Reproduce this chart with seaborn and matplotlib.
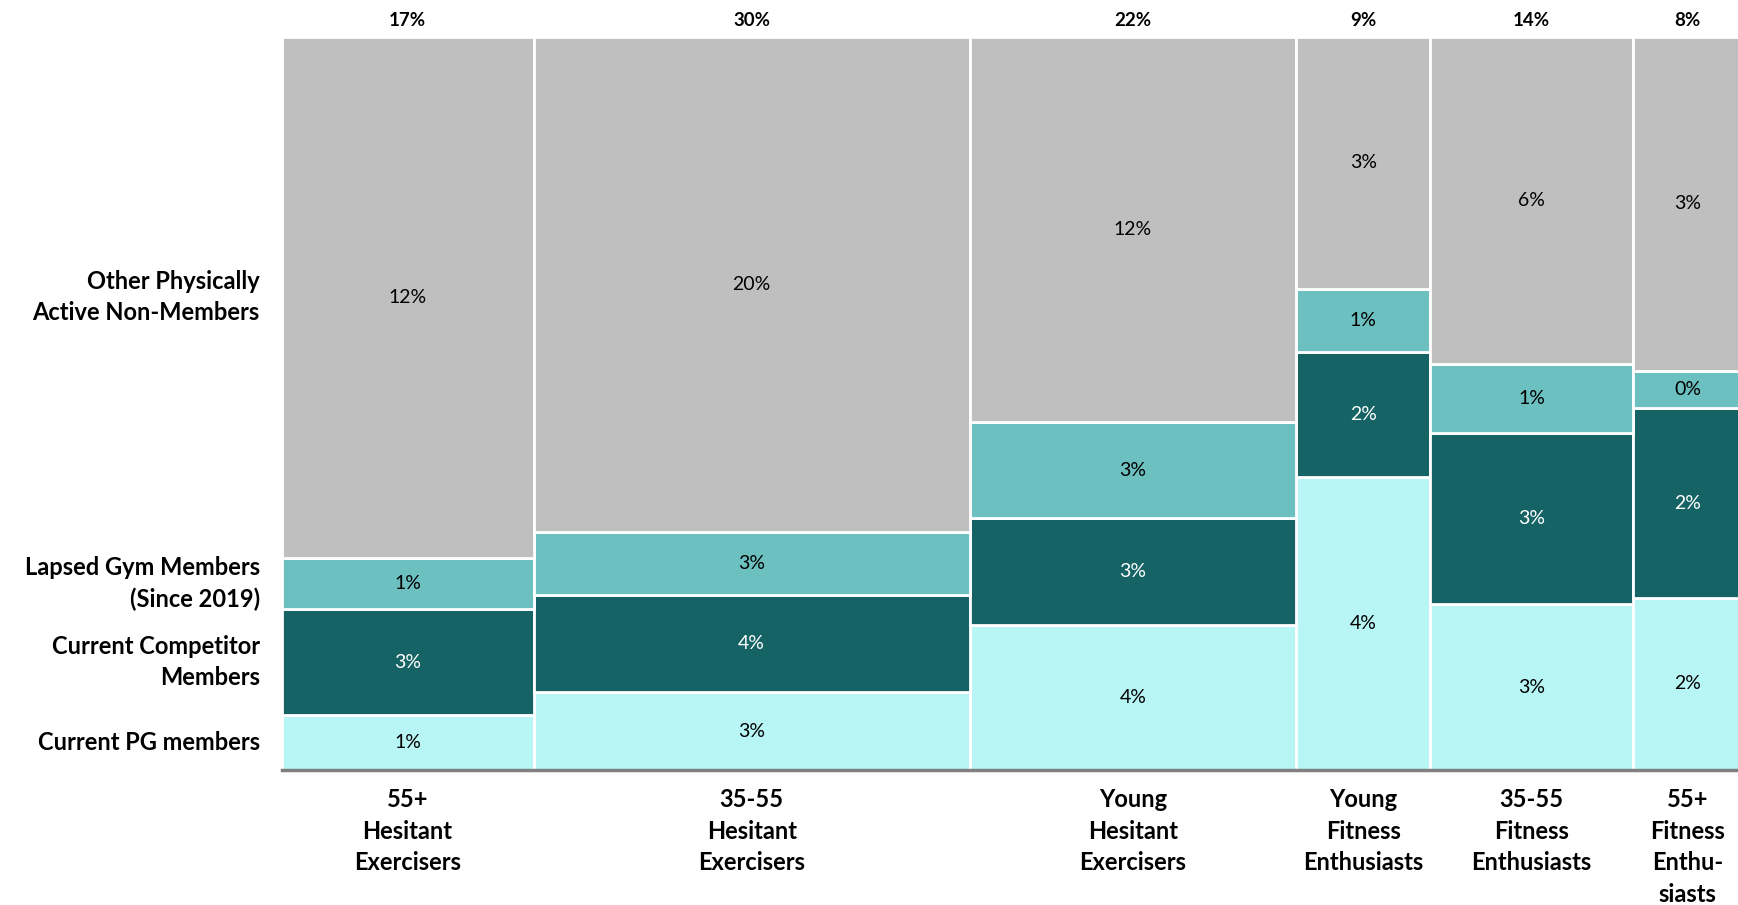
import numpy as np
import matplotlib
matplotlib.use('Agg')
import matplotlib.pyplot as plt
import seaborn as sns

# segments, bottom to top
segments = ['Current PG members', 'Current Competitor\nMembers',
            'Lapsed Gym Members\n(Since 2019)', 'Other Physically\nActive Non-Members']
columns = ['55+\nHesitant\nExercisers', '35-55\nHesitant\nExercisers',
           'Young\nHesitant\nExercisers', 'Young\nFitness\nEnthusiasts',
           '35-55\nFitness\nEnthusiasts', '55+\nFitness\nEnthu-\nsiasts']

# share of total population (%) per column, one list per segment
pg_members = [1.29, 3.17, 4.44, 3.67, 3.14, 1.76]
competitor = [2.51, 3.98, 3.25, 1.57, 3.25, 1.94]
lapsed = [1.20, 2.57, 2.93, 0.79, 1.31, 0.38]
other_active = [12.30, 20.18, 11.78, 3.17, 6.20, 3.42]

seg_colors = ['#B8F6F5', '#156364', '#6CC0C0', '#BFBFBF']
text_colors = ['black', 'white', 'black', 'black']


def pct(v):
    return f'{int(np.floor(v + 0.5 + 1e-9))}%'


values = np.array([pg_members, competitor, lapsed, other_active])
col_tot = values.sum(axis=0)
lefts = np.concatenate([[0], np.cumsum(col_tot)[:-1]])
centers = lefts + col_tot / 2
shares = values / col_tot

sns.set_theme(style='white')
plt.rcParams['font.family'] = ['Lato', 'DejaVu Sans']

fig = plt.figure(figsize=(17.38, 9.05), dpi=100)
px_per_unit = 14.58
ax_w = col_tot.sum() * px_per_unit / 1738
ax = fig.add_axes([281.5 / 1738, 1 - 770 / 905, ax_w, 733.4 / 905])

bottoms = np.zeros(len(columns))
for i, seg in enumerate(segments):
    ax.bar(lefts, shares[i], width=col_tot, bottom=bottoms, align='edge',
           color=seg_colors[i], edgecolor='white', linewidth=2)
    for j in range(len(columns)):
        ax.text(centers[j], bottoms[j] + shares[i][j] / 2, pct(values[i][j]),
                ha='center', va='center', fontsize=14, color=text_colors[i])
    # row label next to first column
    ax.text(-1.5, bottoms[0] + shares[i][0] / 2, seg, ha='right', va='center',
            fontsize=17, fontweight='bold', linespacing=1.42, color='black')
    bottoms = bottoms + shares[i]

# column totals on top, column names below
for j in range(len(columns)):
    ax.text(centers[j], 1.022, pct(col_tot[j]), ha='center', va='center',
            fontsize=13.5, fontweight='bold', color='black')
    ax.text(centers[j], -0.024, columns[j], ha='center', va='top',
            fontsize=17, fontweight='bold', linespacing=1.47, color='black')

ax.set_xlim(0, col_tot.sum())
ax.set_ylim(0, 1)
ax.set_xticks([])
ax.set_yticks([])
sns.despine(ax=ax, left=True, top=True, right=True)
ax.spines['bottom'].set_color('#808080')
ax.spines['bottom'].set_linewidth(2.5)

fig.savefig('out.png', dpi=100)
